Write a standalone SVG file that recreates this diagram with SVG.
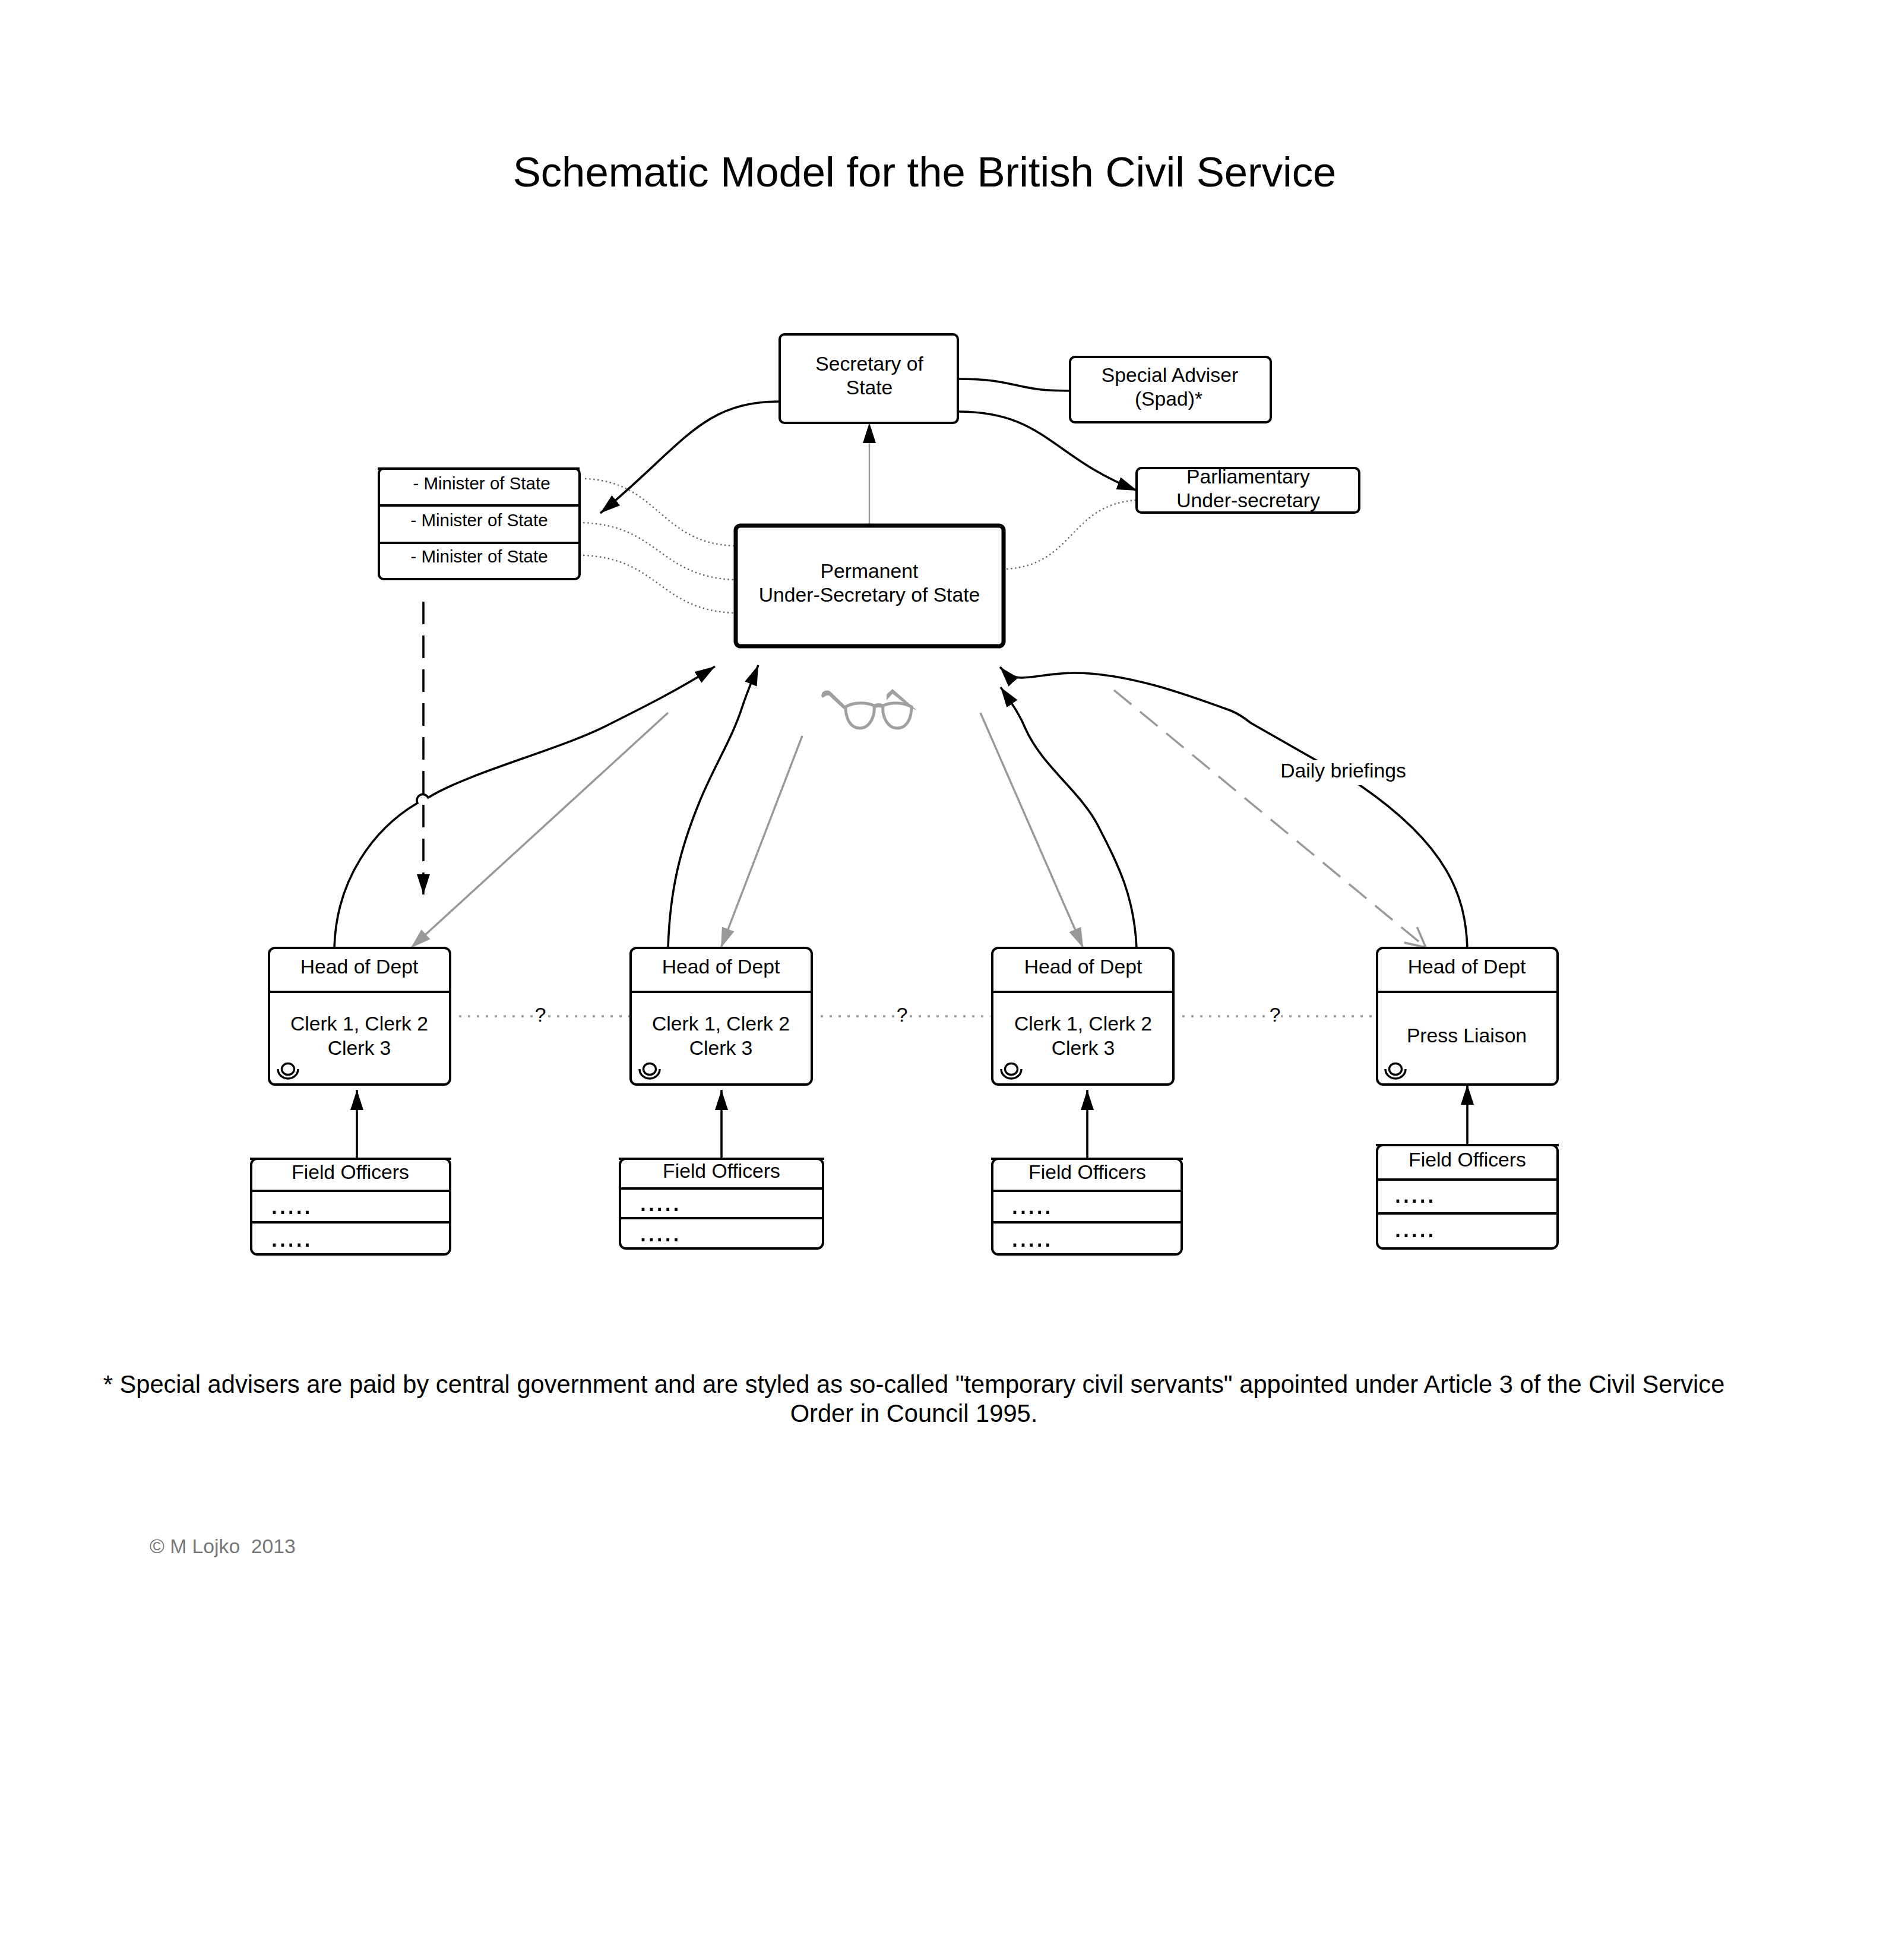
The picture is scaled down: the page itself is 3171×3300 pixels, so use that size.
<svg xmlns="http://www.w3.org/2000/svg" xmlns:xlink="http://www.w3.org/1999/xlink" width="3171" height="3300" viewBox="0 0 3171 3300">
<style>
text{font-family:"Liberation Sans",Arial,sans-serif;fill:#000;text-anchor:middle}
.t{font-size:33.7px}
.s{font-size:29.5px}
.d{font-size:50px;text-anchor:start}
.box{fill:#fff;stroke:#000;stroke-width:4}
.div{stroke:#000;stroke-width:4;fill:none}
.c{fill:none;stroke:#000;stroke-width:3.6}
.g{fill:none;stroke:#999;stroke-width:3.4}
.dot{fill:none;stroke:#666;stroke-width:2.4;stroke-dasharray:2.4 4.6}
.hdot{fill:none;stroke:#999;stroke-width:3.6;stroke-dasharray:4 11}
.gl{fill:none;stroke:#a0a0a0;stroke-width:5}
</style>
<defs>
<marker id="ab" markerUnits="userSpaceOnUse" markerWidth="36" markerHeight="24" refX="34" refY="12" orient="auto"><path d="M0 1L34 12L0 23Z" fill="#000"/></marker>
<marker id="ag" markerUnits="userSpaceOnUse" markerWidth="36" markerHeight="24" refX="34" refY="12" orient="auto"><path d="M0 1L34 12L0 23Z" fill="#999"/></marker>
<marker id="ao" markerUnits="userSpaceOnUse" markerWidth="40" markerHeight="40" refX="36" refY="20" orient="auto"><path d="M3 3L36 20L3 37" fill="none" stroke="#999" stroke-width="3.6"/></marker>
<g id="hat"><ellipse cx="0" cy="0" rx="10.5" ry="9.5" fill="none" stroke="#000" stroke-width="3.4"/><path d="M-17 0A17 16 0 0 0 17 0" fill="none" stroke="#000" stroke-width="3.4"/></g>
</defs>
<rect width="3171" height="3300" fill="#fff"/>
<text id="title" x="1557" y="314" font-size="70.7">Schematic Model for the British Civil Service</text>

<g id="connectors">
<path class="c" marker-end="url(#ab)" d="M1313 676C1180 676 1150 750 1011 864"/>
<path class="c" d="M1613 638C1715 638 1705 658 1801 658"/>
<path class="c" marker-end="url(#ab)" d="M1613 693C1760 693 1770 770 1915 826"/>
<path fill="none" stroke="#999" stroke-width="2.4" marker-end="url(#ab)" d="M1464 884V712"/>
<path class="dot" d="M985 806C1110 811 1110 914 1236 919"/>
<path class="dot" d="M982 880C1110 885 1110 971 1236 976"/>
<path class="dot" d="M982 935C1110 940 1110 1027 1236 1032"/>
<path class="dot" d="M1695 958C1810 951 1800 849 1915 842"/>
<path class="c" stroke-dasharray="38 19" marker-end="url(#ab)" d="M713 1013V1506"/>
<path class="c" marker-end="url(#ab)" d="M563 1596C566 1480 630 1395 703 1352A10 10 0 0 1 721 1343C790 1300 950 1260 1025 1220C1085 1190 1145 1160 1204 1122"/>
<path class="c" marker-end="url(#ab)" d="M1125 1596C1128 1500 1145 1430 1178 1350C1200 1295 1232 1245 1249 1193C1258 1165 1265 1150 1277 1120"/>
<path class="c" marker-end="url(#ab)" d="M1914 1596C1910 1510 1885 1460 1849 1390C1820 1333 1755 1290 1727 1227C1718 1205 1708 1190 1685 1157"/>
<path class="c" marker-end="url(#ab)" d="M2471 1596C2468 1510 2440 1425 2290 1322L2106 1217Q2090 1204 2074 1197C2000 1170 1900 1133 1808 1133C1775 1133 1740 1141 1720 1141Q1700 1141 1684 1123"/>
<path class="g" marker-end="url(#ag)" d="M1125 1200L692 1596"/>
<path class="g" marker-end="url(#ag)" d="M1351 1239L1214 1596"/>
<path class="g" marker-end="url(#ag)" d="M1651 1200L1824 1596"/>
<path class="g" stroke-dasharray="38 19" marker-end="url(#ao)" d="M1876 1162L2401 1595"/>
<path class="c" marker-end="url(#ab)" d="M601 1950V1835"/>
<path class="c" marker-end="url(#ab)" d="M1215 1950V1835"/>
<path class="c" marker-end="url(#ab)" d="M1831 1950V1835"/>
<path class="c" marker-end="url(#ab)" d="M2471 1928V1826"/>
<path class="hdot" d="M773 1711H1060"/>
<path class="hdot" d="M1382 1711H1668"/>
<path class="hdot" d="M1991 1711H2318"/>
</g>

<g id="labels">
<rect x="2150" y="1280" width="226" height="42" fill="#fff"/>
<text class="t" x="2262" y="1309">Daily briefings</text>
<rect x="900" y="1692" width="20" height="34" fill="#fff"/><text class="t" x="910" y="1720">?</text>
<rect x="1509" y="1692" width="20" height="34" fill="#fff"/><text class="t" x="1519" y="1720">?</text>
<rect x="2137" y="1692" width="20" height="34" fill="#fff"/><text class="t" x="2147" y="1720">?</text>
</g>

<g id="secretary"><rect class="box" x="1313" y="563" width="300" height="149" rx="8"/>
<text class="t" x="1464" y="624">Secretary of</text><text class="t" x="1464" y="664">State</text></g>
<g id="spad"><rect class="box" x="1802" y="601" width="338" height="110" rx="8"/>
<text class="t" x="1970" y="643">Special Adviser</text><text class="t" x="1968" y="683">(Spad)*</text></g>
<g id="parliamentary"><rect class="box" x="1914" y="788" width="375" height="75" rx="8"/>
<text class="t" x="2102" y="814">Parliamentary</text><text class="t" x="2102" y="854">Under-secretary</text></g>
<g id="ministers"><rect class="box" x="638" y="789" width="338" height="186" rx="8"/>
<path class="div" d="M636 789H976M638 851H976M638 914H976"/>
<text class="s" x="811" y="824">- Minister of State</text><text class="s" x="807" y="886">- Minister of State</text><text class="s" x="807" y="947">- Minister of State</text></g>
<g id="permanent"><rect x="1239" y="885" width="451" height="203" rx="8" fill="#fff" stroke="#000" stroke-width="7"/>
<text class="t" x="1464" y="973">Permanent</text><text class="t" x="1464" y="1013">Under-Secretary of State</text></g>

<g id="glasses" fill="#a0a0a0">
<path class="gl" d="M1424 1190C1438 1182 1458 1182 1472 1188C1474 1205 1465 1226 1448 1226C1431 1226 1424 1208 1424 1190Z"/>
<path class="gl" d="M1487 1188C1501 1182 1521 1182 1535 1190C1535 1208 1528 1226 1511 1226C1494 1226 1485 1205 1487 1188Z"/>
<path d="M1471 1186Q1480 1182 1488 1186V1193Q1480 1189 1471 1193Z"/>
<path d="M1425 1190L1398 1164Q1390 1160 1384 1167L1383 1172L1385 1175L1392 1171L1396 1171L1421 1194Z"/>
<path d="M1544 1196L1503 1160L1493 1169V1179L1503 1168L1532 1191Z"/>
</g>

<g id="head1"><rect class="box" x="453" y="1596" width="305" height="230" rx="10"/><path class="div" d="M453 1670H758"/>
<text class="t" x="605" y="1639">Head of Dept</text><text class="t" x="605" y="1735">Clerk 1, Clerk 2</text><text class="t" x="605" y="1776">Clerk 3</text><use href="#hat" xlink:href="#hat" x="485" y="1800"/></g>
<g id="head2"><rect class="box" x="1062" y="1596" width="305" height="230" rx="10"/><path class="div" d="M1062 1670H1367"/>
<text class="t" x="1214" y="1639">Head of Dept</text><text class="t" x="1214" y="1735">Clerk 1, Clerk 2</text><text class="t" x="1214" y="1776">Clerk 3</text><use href="#hat" xlink:href="#hat" x="1094" y="1800"/></g>
<g id="head3"><rect class="box" x="1671" y="1596" width="305" height="230" rx="10"/><path class="div" d="M1671 1670H1976"/>
<text class="t" x="1824" y="1639">Head of Dept</text><text class="t" x="1824" y="1735">Clerk 1, Clerk 2</text><text class="t" x="1824" y="1776">Clerk 3</text><use href="#hat" xlink:href="#hat" x="1703" y="1800"/></g>
<g id="head4"><rect class="box" x="2319" y="1596" width="304" height="230" rx="10"/><path class="div" d="M2319 1670H2623"/>
<text class="t" x="2470" y="1639">Head of Dept</text><text class="t" x="2470" y="1755">Press Liaison</text><use href="#hat" xlink:href="#hat" x="2350" y="1800"/></g>

<g id="field1"><rect class="box" x="423" y="1951" width="335" height="161" rx="10"/><path class="div" d="M421 1951H760M423 2005H758M423 2058H758"/>
<text class="t" x="590" y="1985">Field Officers</text><text class="d" x="455" y="2044">.....</text><text class="d" x="455" y="2099">.....</text></g>
<g id="field2"><rect class="box" x="1044" y="1951" width="342" height="151" rx="10"/><path class="div" d="M1042 1951H1388M1044 2001H1386M1044 2051H1386"/>
<text class="t" x="1215" y="1983">Field Officers</text><text class="d" x="1076" y="2039">.....</text><text class="d" x="1076" y="2090">.....</text></g>
<g id="field3"><rect class="box" x="1671" y="1951" width="319" height="161" rx="10"/><path class="div" d="M1669 1951H1992M1671 2005H1990M1671 2058H1990"/>
<text class="t" x="1831" y="1985">Field Officers</text><text class="d" x="1702" y="2044">.....</text><text class="d" x="1702" y="2099">.....</text></g>
<g id="field4"><rect class="box" x="2319" y="1928" width="304" height="174" rx="10"/><path class="div" d="M2317 1928H2625M2319 1986H2623M2319 2043H2623"/>
<text class="t" x="2471" y="1964">Field Officers</text><text class="d" x="2347" y="2025">.....</text><text class="d" x="2347" y="2083">.....</text></g>

<text id="note1" x="1539" y="2345" font-size="41.65">* Special advisers are paid by central government and are styled as so-called "temporary civil servants" appointed under Article 3 of the Civil Service</text>
<text id="note2" x="1539" y="2394" font-size="41.65">Order in Council 1995.</text>
<text id="copyright" x="252" y="2615" font-size="33.7" style="text-anchor:start;fill:#777;white-space:pre">© M Lojko  2013</text>
</svg>
